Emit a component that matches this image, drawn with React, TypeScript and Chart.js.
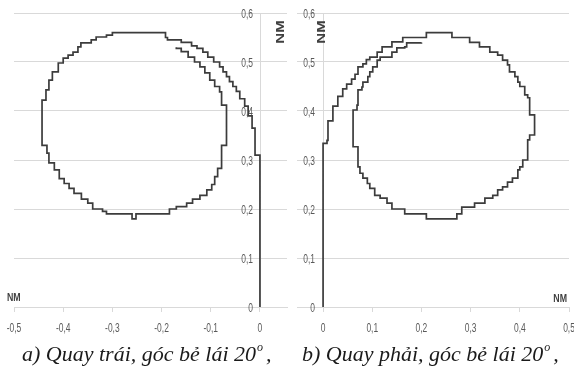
import React, { useEffect, useRef } from 'react';
import { Chart, registerables } from 'chart.js';

Chart.register(...registerables);

// ---- Data (NM) ----
const leftX = [0, 0, -0.01, -0.016, -0.024, -0.031, -0.041, -0.048, -0.055, -0.062, -0.068, -0.075, -0.082, -0.094, -0.106, -0.116, -0.128, -0.139, -0.16, -0.188, -0.192, -0.292, -0.3, -0.312, -0.333, -0.343, -0.364, -0.37, -0.38, -0.39, -0.4, -0.41, -0.422, -0.429, -0.435, -0.443, -0.443, -0.433, -0.429, -0.418, -0.408, -0.398, -0.388, -0.378, -0.363, -0.35, -0.34, -0.32, -0.312, -0.262, -0.26, -0.252, -0.2, -0.184, -0.17, -0.149, -0.137, -0.122, -0.108, -0.098, -0.092, -0.086, -0.078, -0.068, -0.078, -0.082, -0.092, -0.102, -0.112, -0.122, -0.133, -0.146, -0.16, -0.17];
const leftY = [0, 0.31, 0.365, 0.39, 0.41, 0.425, 0.44, 0.45, 0.46, 0.47, 0.48, 0.49, 0.5, 0.51, 0.52, 0.528, 0.533, 0.54, 0.545, 0.55, 0.56, 0.56, 0.555, 0.551, 0.545, 0.539, 0.531, 0.52, 0.514, 0.508, 0.498, 0.48, 0.463, 0.443, 0.422, 0.412, 0.33, 0.314, 0.294, 0.28, 0.262, 0.252, 0.242, 0.232, 0.22, 0.212, 0.2, 0.195, 0.19, 0.19, 0.18, 0.19, 0.19, 0.2, 0.205, 0.212, 0.22, 0.228, 0.239, 0.25, 0.266, 0.283, 0.33, 0.412, 0.439, 0.45, 0.463, 0.478, 0.49, 0.5, 0.51, 0.521, 0.528, 0.53];

const rightX = [0, 0, 0.008, 0.01, 0.02, 0.03, 0.04, 0.048, 0.058, 0.065, 0.071, 0.081, 0.088, 0.095, 0.11, 0.12, 0.14, 0.162, 0.21, 0.25, 0.262, 0.298, 0.318, 0.339, 0.355, 0.365, 0.375, 0.379, 0.39, 0.396, 0.4, 0.41, 0.416, 0.42, 0.43, 0.42, 0.416, 0.406, 0.4, 0.396, 0.385, 0.375, 0.365, 0.355, 0.345, 0.329, 0.308, 0.282, 0.272, 0.21, 0.21, 0.176, 0.166, 0.15, 0.14, 0.13, 0.116, 0.105, 0.095, 0.09, 0.081, 0.075, 0.071, 0.061, 0.061, 0.069, 0.071, 0.079, 0.081, 0.091, 0.095, 0.101, 0.11, 0.116, 0.136, 0.14, 0.15, 0.166, 0.17, 0.2];
const rightY = [0, 0.334, 0.34, 0.38, 0.41, 0.43, 0.445, 0.455, 0.465, 0.475, 0.49, 0.496, 0.505, 0.51, 0.52, 0.531, 0.541, 0.55, 0.56, 0.56, 0.55, 0.54, 0.531, 0.52, 0.514, 0.504, 0.494, 0.48, 0.47, 0.459, 0.45, 0.433, 0.427, 0.392, 0.351, 0.341, 0.3, 0.286, 0.28, 0.263, 0.255, 0.245, 0.239, 0.228, 0.222, 0.212, 0.204, 0.19, 0.18, 0.18, 0.19, 0.19, 0.2, 0.2, 0.212, 0.222, 0.228, 0.242, 0.252, 0.263, 0.273, 0.286, 0.327, 0.337, 0.402, 0.412, 0.443, 0.449, 0.459, 0.47, 0.48, 0.49, 0.504, 0.51, 0.51, 0.52, 0.529, 0.531, 0.539, 0.54];

const leftXTicks = [-0.5, -0.4, -0.3, -0.2, -0.1, 0];
const rightXTicks = [0, 0.1, 0.2, 0.3, 0.4, 0.5];
const yTicks = [0, 0.1, 0.2, 0.3, 0.4, 0.5, 0.6];
const unitLabel = 'NM';
const captionA = 'a) Quay trái, góc bẻ lái 20';
const captionB = 'b) Quay phải, góc bẻ lái 20';
const degreeMark = 'o';

const GRID = '#d9d9d9';
const LINE = '#3c3c3c';
const TICK_TEXT = '#595959';

function fmt(v: number): string {
  if (Math.abs(v) < 1e-9) return '0';
  return v.toFixed(1).replace('.', ',');
}

function squishText(ctx: CanvasRenderingContext2D, text: string, x: number, y: number, sx: number, align: CanvasTextAlign, rot = 0) {
  ctx.save();
  ctx.translate(x, y);
  ctx.scale(sx, 1);
  if (rot) ctx.rotate(rot);
  ctx.textAlign = align;
  ctx.textBaseline = 'middle';
  ctx.fillText(text, 0, 0);
  ctx.restore();
}

type PanelCfg = {
  xs: number[];
  ys: number[];
  xTicks: number[];
  xMin: number;
  xMax: number;
  padding: { left: number; right: number; top: number; bottom: number };
  hUnit: { x: number; y: number; align: CanvasTextAlign };
  vUnitX: number;
  vUnitY: number;
  yLabelGap: number;
};

function Panel({ cfg, width, left }: { cfg: PanelCfg; width: number; left: number }) {
  const ref = useRef<HTMLCanvasElement | null>(null);
  useEffect(() => {
    if (!ref.current) return;
    const decor = {
      id: 'decor',
      beforeDatasetsDraw(chart: any) {
        const ctx = chart.ctx as CanvasRenderingContext2D;
        const xs = chart.scales.x;
        const ysc = chart.scales.y;
        const x0 = xs.getPixelForValue(0);
        ctx.save();
        ctx.strokeStyle = GRID;
        ctx.lineWidth = 1;
        ctx.beginPath();
        ctx.moveTo(Math.round(x0) + 0.5, ysc.top);
        ctx.lineTo(Math.round(x0) + 0.5, ysc.bottom);
        ctx.stroke();
        ctx.fillStyle = TICK_TEXT;
        ctx.font = '13px "Liberation Sans", Arial, sans-serif';
        yTicks.forEach((v) => {
          squishText(ctx, fmt(v), x0 - cfg.yLabelGap, ysc.getPixelForValue(v) + 1, 0.65, 'right');
        });
        cfg.xTicks.forEach((v) => {
          squishText(ctx, fmt(v), xs.getPixelForValue(v), ysc.bottom + 21, 0.65, 'center');
        });
        ctx.fillStyle = '#404040';
        ctx.font = 'bold 11px "Liberation Sans", Arial, sans-serif';
        squishText(ctx, unitLabel, cfg.hUnit.x, cfg.hUnit.y, 0.8, cfg.hUnit.align);
        ctx.font = 'bold 15px "Liberation Sans", Arial, sans-serif';
        squishText(ctx, unitLabel, cfg.vUnitX, cfg.vUnitY, 0.7, 'center', -Math.PI / 2);
        ctx.restore();
      },
    };
    const chart = new Chart(ref.current, {
      type: 'scatter',
      data: {
        datasets: [
          {
            data: cfg.xs.map((x, i) => ({ x, y: cfg.ys[i] })),
            showLine: true,
            stepped: true,
            borderColor: LINE,
            borderWidth: 1.7,
            pointRadius: 0,
            fill: false,
          } as any,
        ],
      },
      options: {
        responsive: false,
        animation: false,
        devicePixelRatio: 1,
        layout: { padding: cfg.padding },
        plugins: { legend: { display: false }, tooltip: { enabled: false } },
        scales: {
          x: {
            type: 'linear',
            min: cfg.xMin,
            max: cfg.xMax,
            afterBuildTicks: (s: any) => {
              s.ticks = cfg.xTicks.map((v) => ({ value: v }));
            },
            ticks: { display: false },
            grid: { drawOnChartArea: false, drawTicks: true, tickLength: 5, color: GRID },
            border: { display: true, color: GRID },
          },
          y: {
            type: 'linear',
            min: 0,
            max: 0.6,
            afterBuildTicks: (s: any) => {
              s.ticks = yTicks.map((v) => ({ value: v }));
            },
            ticks: { display: false },
            grid: { drawTicks: false, color: GRID },
            border: { display: false },
          },
        },
      } as any,
      plugins: [decor],
    });
    return () => chart.destroy();
  }, []);
  return (
    <canvas
      ref={ref}
      width={width}
      height={378}
      style={{ position: 'absolute', left, top: 0, width, height: 378 }}
    />
  );
}

const leftCfg: PanelCfg = {
  xs: leftX,
  ys: leftY,
  xTicks: leftXTicks,
  xMin: -0.5,
  xMax: 0.055,
  padding: { left: 14, right: 3, top: 13, bottom: 66 },
  hUnit: { x: 7, y: 298, align: 'left' },
  vUnitX: 281,
  vUnitY: 32,
  yLabelGap: 7,
};

const rightCfg: PanelCfg = {
  xs: rightX,
  ys: rightY,
  xTicks: rightXTicks,
  xMin: -0.053,
  xMax: 0.5,
  padding: { left: 7, right: 5, top: 13, bottom: 66 },
  hUnit: { x: 277, y: 299, align: 'right' },
  vUnitX: 32,
  vUnitY: 32,
  yLabelGap: 8,
};

const captionStyle: React.CSSProperties = {
  position: 'absolute',
  top: 343,
  fontFamily: '"Liberation Serif", "Times New Roman", serif',
  fontStyle: 'italic',
  fontSize: 22,
  lineHeight: '22px',
  color: '#1a1a1a',
  whiteSpace: 'nowrap',
};

const supStyle: React.CSSProperties = {
  fontSize: 12,
  position: 'relative',
  top: -10,
  marginLeft: 1,
  marginRight: 3,
  verticalAlign: 'baseline',
};

export default function App() {
  return (
    <div style={{ position: 'fixed', left: 0, top: 0, width: 574, height: 378, background: '#fff', overflow: 'hidden' }}>
      <Panel cfg={leftCfg} width={290} left={0} />
      <Panel cfg={rightCfg} width={284} left={290} />
      <div style={{ ...captionStyle, left: 22 }}>
        {captionA}
        <span style={supStyle}>{degreeMark}</span>,
      </div>
      <div style={{ ...captionStyle, left: 302 }}>
        {captionB}
        <span style={supStyle}>{degreeMark}</span>,
      </div>
    </div>
  );
}
